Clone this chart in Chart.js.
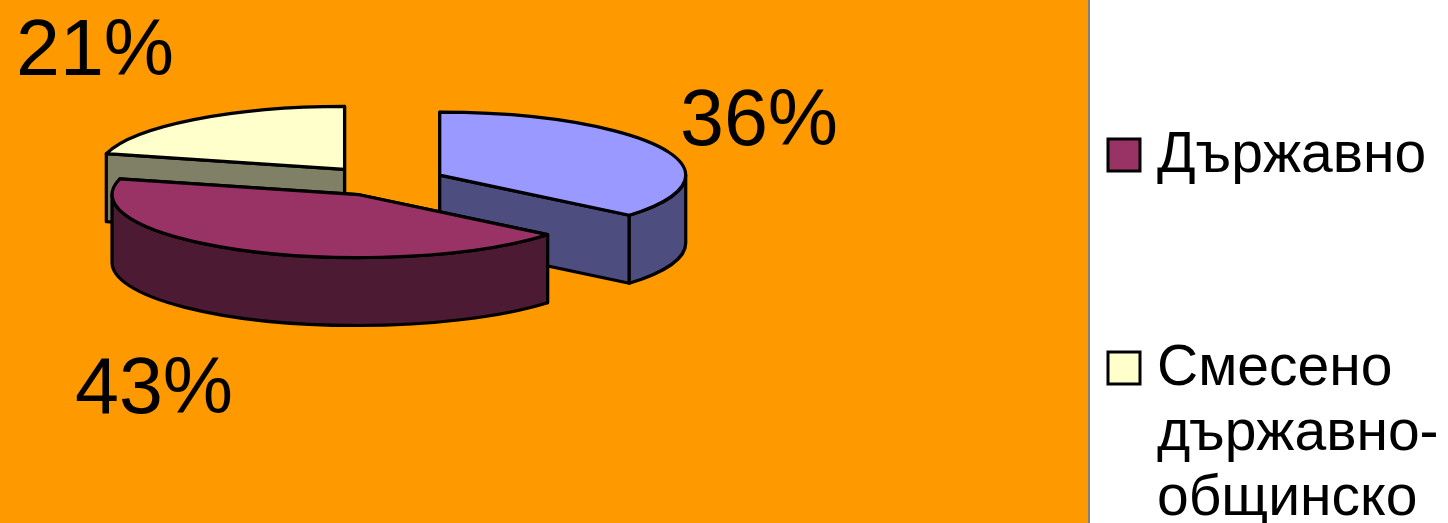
<!DOCTYPE html>
<html>
<head>
<meta charset="utf-8">
<script src="https://cdn.jsdelivr.net/npm/chart.js@4"></script>
<style>
  html, body { margin: 0; padding: 0; background: #fff; overflow: hidden; }
  #plotBg { position: absolute; left: 0; top: 0; width: 1088px; height: 523px; background: #ff9900; border-right: 2px solid #808080; }
  #wrap { position: absolute; left: 0; top: 0; width: 1448px; height: 523px; }
</style>
</head>
<body>
<div id="plotBg"></div>
<div id="wrap"><canvas id="myChart"></canvas></div>
<script>
var categories = [[], ["Държавно"], ["Смесено", "държавно-", "общинско"]];
var shares = [36, 43, 21];
var topColors = ["#9999ff", "#993366", "#ffffcc"];
var sideColors = ["#4d4d80", "#4d1a33", "#808066"];

var tilt = 0.256;   // vertical squash of the pie
var depth = 68;     // height of the side walls
var explode = [62.7, 55, 62.7]; // how far each slice is pulled out
var font = "Liberation Sans, Arial, sans-serif";

// where a slice ends up once pulled out from the centre
function sliceCenter(arc, i) {
  var mid = (arc.startAngle + arc.endAngle) / 2;
  return {
    x: arc.x + Math.cos(mid) * explode[i],
    y: arc.y + Math.sin(mid) * explode[i] * tilt,
  };
}

function ptOnRim(c, r, angle) {
  return { x: c.x + Math.cos(angle) * r, y: c.y + Math.sin(angle) * r * tilt };
}

function fillStroke(ctx, fill) {
  ctx.fillStyle = fill;
  ctx.fill();
  ctx.stroke();
}

// straight cut face, from the centre out to the rim, extruded down
function drawFace(ctx, c, r, angle, fill) {
  var p = ptOnRim(c, r, angle);
  ctx.beginPath();
  ctx.moveTo(c.x, c.y);
  ctx.lineTo(p.x, p.y);
  ctx.lineTo(p.x, p.y + depth);
  ctx.lineTo(c.x, c.y + depth);
  ctx.closePath();
  fillStroke(ctx, fill);
}

// outer wall, only the part that faces the viewer (0..PI on the canvas)
function drawWall(ctx, c, r, start, end, fill) {
  var a = Math.max(start, 0);
  var b = Math.min(end, Math.PI);
  if (b <= a) return;
  ctx.beginPath();
  ctx.ellipse(c.x, c.y, r, r * tilt, 0, a, b);
  ctx.ellipse(c.x, c.y + depth, r, r * tilt, 0, b, a, true);
  ctx.closePath();
  fillStroke(ctx, fill);
}

function drawTop(ctx, c, r, start, end, fill) {
  ctx.beginPath();
  ctx.moveTo(c.x, c.y);
  ctx.ellipse(c.x, c.y, r, r * tilt, 0, start, end);
  ctx.closePath();
  fillStroke(ctx, fill);
}

var pie3d = {
  id: "pie3d",
  beforeDatasetsDraw: function (chart) {
    var ctx = chart.ctx;
    var arcs = chart.getDatasetMeta(0).data.map(function (arc, i) {
      return { arc: arc, i: i, c: sliceCenter(arc, i) };
    });
    // back slices first
    arcs.sort(function (a, b) { return a.c.y - b.c.y; });

    ctx.save();
    ctx.strokeStyle = "#000";
    ctx.lineWidth = 3.2;
    ctx.lineJoin = "round";
    arcs.forEach(function (s) {
      var r = s.arc.outerRadius;
      drawFace(ctx, s.c, r, s.arc.startAngle, sideColors[s.i]);
      drawFace(ctx, s.c, r, s.arc.endAngle, sideColors[s.i]);
      drawWall(ctx, s.c, r, s.arc.startAngle, s.arc.endAngle, sideColors[s.i]);
      drawTop(ctx, s.c, r, s.arc.startAngle, s.arc.endAngle, topColors[s.i]);
    });
    ctx.restore();
    return false; // the flat arcs are not wanted
  },
  afterDraw: function (chart) {
    var ctx = chart.ctx;
    ctx.save();
    ctx.fillStyle = "#000";
    ctx.textBaseline = "alphabetic";

    // percentage labels
    var labelPos = [[680, 145], [75, 413], [16, 75]];
    ctx.font = "79px " + font;
    shares.forEach(function (v, i) {
      ctx.fillText(v + "%", labelPos[i][0], labelPos[i][1]);
    });

    // legend on the white panel
    var legendY = [null, 172, 385];
    ctx.font = "57px " + font;
    categories.forEach(function (lines, i) {
      if (!lines.length) return;
      ctx.fillStyle = topColors[i];
      ctx.strokeStyle = "#000";
      ctx.lineWidth = 3;
      ctx.fillRect(1108, legendY[i] - 33, 32, 32);
      ctx.strokeRect(1108, legendY[i] - 33, 32, 32);
      ctx.fillStyle = "#000";
      lines.forEach(function (line, n) {
        ctx.fillText(line, 1157, legendY[i] + n * 65);
      });
    });
    ctx.restore();
  },
};

var ctx = document.getElementById("myChart").getContext("2d");

var myChart = new Chart(ctx, {
  type: "pie",
  data: {
    labels: ["", "Държавно", "Смесено държавно-общинско"],
    datasets: [
      {
        data: shares,
        backgroundColor: topColors,
        borderWidth: 0,
        radius: 246,
      },
    ],
  },
  options: {
    responsive: true,
    maintainAspectRatio: false,
    animation: false,
    layout: { padding: { right: 682, bottom: 159 } }, // puts the pie centre at 383,182
    plugins: { legend: { display: false }, tooltip: { enabled: false } },
  },
  plugins: [pie3d],
});
</script>
</body>
</html>
